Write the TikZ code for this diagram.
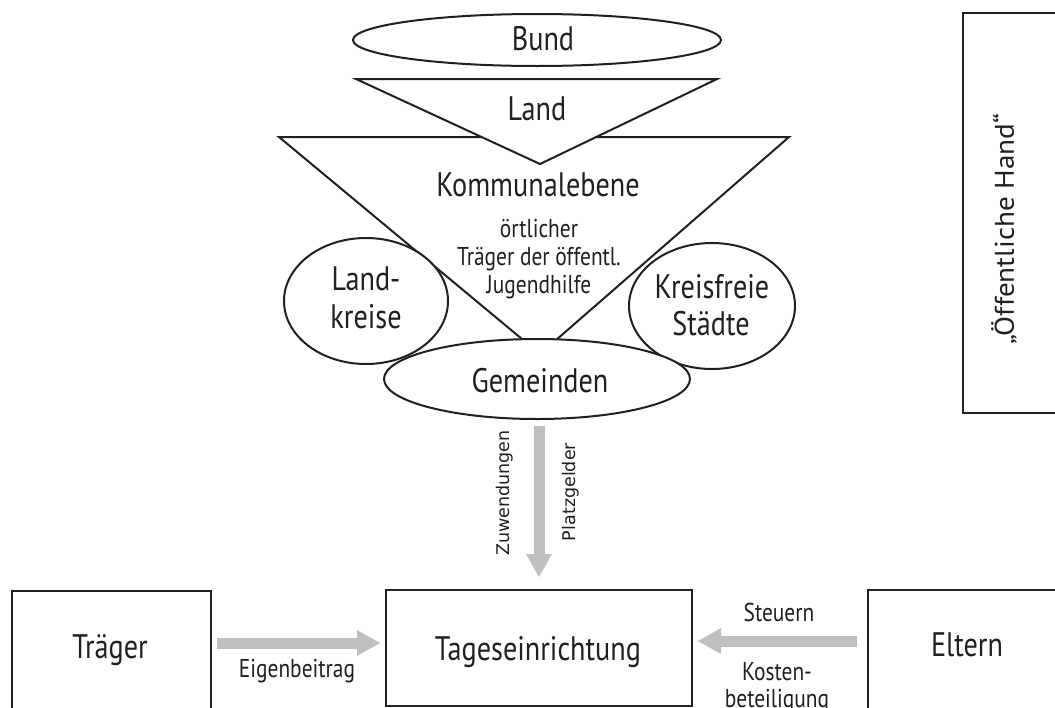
\documentclass[tikz,border=0pt]{standalone}
\usepackage{fontspec}
\setmainfont{PT Sans}
\newfontfamily\condf{PT Sans}[FakeStretch=0.83]
\newfontfamily\widef{PT Sans}[FakeStretch=1.08]
\newfontfamily\dvs{DejaVu Sans}
\usetikzlibrary{arrows.meta,shapes.geometric}
\definecolor{ink}{RGB}{35,31,32}
\definecolor{arrowgray}{RGB}{190,191,193}
\begin{document}
\begin{tikzpicture}[x=1pt,y=-1pt,
  outl/.style={draw=ink, line width=2pt, fill=white},
  ell/.style={outl, ellipse, inner sep=0pt, outer sep=0pt},
  box/.style={draw=ink, line width=1.3pt, rectangle, inner sep=0pt, outer sep=0pt, anchor=north west},
  big/.style={text=ink, font=\condf\fontsize{34}{40}\selectfont, inner sep=0pt, anchor=base},
  small/.style={text=ink, font=\condf\fontsize{25.8}{28}\selectfont, inner sep=0pt, anchor=base},
  rot/.style={text=ink, font=\dvs\fontsize{17.5}{20}\selectfont, inner sep=0pt, rotate=90},
  garrow/.style={draw=arrowgray, line width=11pt, -{Triangle[width=26pt,length=23pt,line width=0pt]}}
]
\useasboundingbox (0,0) rectangle (1055,707);
\clip (0,0) rectangle (1055,707);
\fill[white] (0,0) rectangle (1055,707);

% Kommunalebene triangle
\coordinate (k1) at (279,137);
\coordinate (k2) at (789,137);
\coordinate (k3) at (540,354);
\draw[outl] (k1) -- (k2) -- (k3) -- cycle;
% Land triangle
\coordinate (l1) at (356,79);
\coordinate (l2) at (717,79);
\coordinate (l3) at (540,164);
\draw[outl] (l1) -- (l2) -- (l3) -- cycle;
% Bund
\node[ell, minimum width=368, minimum height=52] (bundell) at (537,40) {};
% Landkreise, Kreisfreie Staedte, Gemeinden
\node[ell, minimum width=164, minimum height=126] (lkell) at (366,301) {};
\node[ell, minimum width=166, minimum height=126] (ksell) at (712,306) {};
\node[ell, minimum width=306, minimum height=80] (gemell) at (537,379) {};

% texts
\node[big] (bund) at (543,50) {Bund};
\node[big] (land) at (537,120) {Land};
\node[big] (komm) at (538,196) {Kommunalebene};
\node[small] (oert1) at (539,237) {örtlicher};
\node[small] (oert2) at (539,265) {Träger der öffentl.};
\node[small] (oert3) at (539,293) {Jugendhilfe};
\node[big] (lk1) at (366,290) {Land-};
\node[big] (lk2) at (366,328) {kreise};
\node[big] (ks1) at (712,298) {Kreisfreie};
\node[big] (ks2) at (711,335) {Städte};
\node[big] (gem) at (540,392) {Gemeinden};

% right box
\node[box, line width=2pt, minimum width=120, minimum height=400] (ohbox) at (963,13) {};
\node[text=ink, font=\widef\fontsize{27}{30}\selectfont, inner sep=0pt, rotate=90] (oh) at (1004,229) {„Öffentliche Hand“};

% bottom boxes
\node[box, minimum width=199, minimum height=140] (traegerbox) at (12,591) {};
\node[box, minimum width=306, minimum height=116] (tagesbox) at (386,590) {};
\node[box, minimum width=200, minimum height=140] (elternbox) at (868,590) {};
\node[big] (traeger) at (110,658) {Träger};
\node[big] (tages) at (538,660) {Tageseinrichtung};
\node[big] (eltern) at (967,656) {Eltern};

% arrows
\draw[garrow, shorten <=7pt, shorten >=13pt] (gemell.south -| tagesbox.north) -- (tagesbox.north);
\coordinate (ya) at (0,643);
\coordinate (yb) at (0,641);
\draw[garrow, shorten <=6pt, shorten >=6pt] (traegerbox.east |- ya) -- (tagesbox.west |- ya);
\draw[garrow, shorten <=11pt, shorten >=6pt] (elternbox.west |- yb) -- (tagesbox.east |- yb);

% arrow labels
\node[rot] (zuw) at (505,493) {Zuwendungen};
\node[rot] (platz) at (571,492) {Platzgelder};
\node[small] (eig) at (297,677) {Eigenbeitrag};
\node[small] (steu) at (779,621) {Steuern};
\node[small] (kost1) at (777,680) {Kosten-};
\node[small] (kost2) at (777,707) {beteiligung};
\end{tikzpicture}
\end{document}
